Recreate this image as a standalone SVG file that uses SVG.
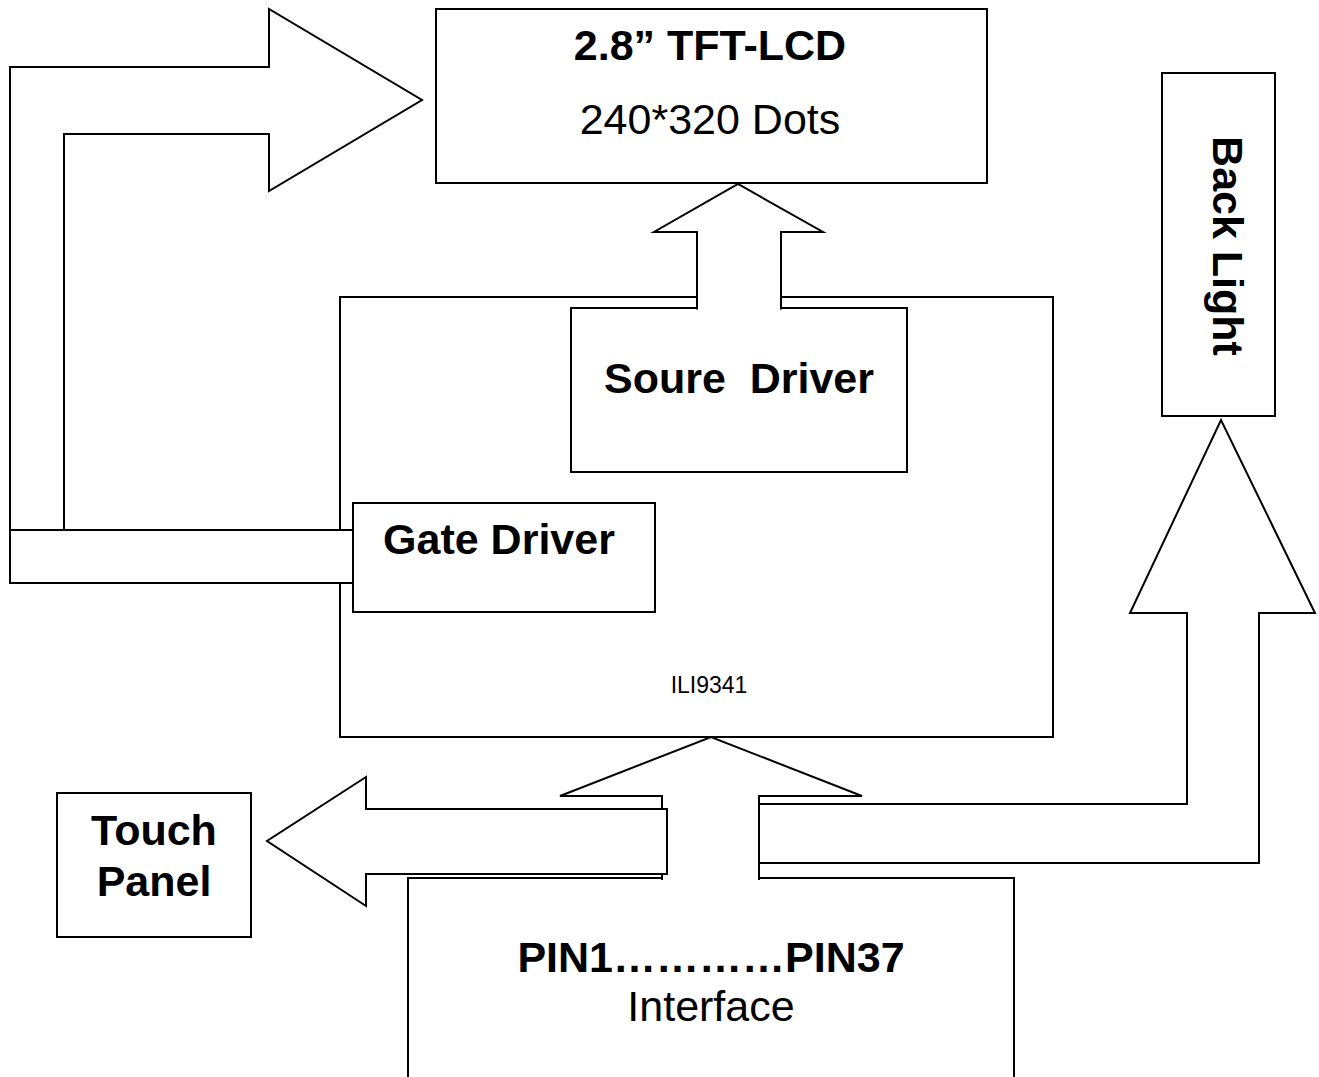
<svg xmlns="http://www.w3.org/2000/svg" width="1319" height="1077" viewBox="0 0 1319 1077">
<style>
.box{fill:#fff;stroke:#000;stroke-width:2}
.arw{fill:#fff;stroke:#000;stroke-width:2;stroke-linejoin:miter}
.t{font-family:"Liberation Sans",Arial,sans-serif;font-size:43px;fill:#000;text-anchor:middle}
.b{font-weight:bold}
.s{font-size:23px}
</style>
<rect width="1319" height="1077" fill="#fff"/>
<g id="nodes">
<g id="tft-lcd">
<rect class="box" x="436" y="9" width="551" height="174"/>
<text class="t b" x="710" y="60">2.8” TFT-LCD</text>
<text class="t" x="710" y="134">240*320 Dots</text>
</g>
<g id="ili9341">
<rect class="box" x="340" y="297" width="713" height="440"/>
<text class="t s" x="709" y="693">ILI9341</text>
</g>
<g id="source-driver">
<rect class="box" x="571" y="308" width="336" height="164"/>
<text class="t b" x="739" y="393" xml:space="preserve">Soure  Driver</text>
</g>
<g id="gate-driver">
<rect class="box" x="353" y="503" width="302" height="109"/>
<text class="t b" x="499" y="554">Gate Driver</text>
</g>
<g id="back-light">
<rect class="box" x="1162" y="73" width="113" height="343"/>
<text class="t b" x="1213" y="246" transform="rotate(90 1213 246)">Back Light</text>
</g>
<g id="touch-panel">
<rect class="box" x="57" y="793" width="194" height="144"/>
<text class="t b" x="154" y="845">Touch</text>
<text class="t b" x="154" y="896">Panel</text>
</g>
<g id="pin-interface">
<rect class="box" x="408" y="878" width="606" height="220"/>
<text class="t b" x="711" y="972">PIN1…………PIN37</text>
<text class="t" x="711" y="1021">Interface</text>
</g>
</g>
<g id="connectors">
<path class="arw" d="M10,530 V67 H269 V9 L422,100 L269,191 V134 H64 V530"/>
<rect class="arw" x="10" y="530" width="343" height="53"/>
<path class="arw" d="M697,309.5 V232 H654 L738,184 L823,232 H781 V309.5"/>
<path class="arw" d="M759,804 H1187 V613 H1130 L1221,420 L1315,613 H1259 V863 H759"/>
<path class="arw" d="M662,880 V796 H560 L711,737 L862,796 H759 V880"/>
<path class="arw" d="M667,809 H366 V777 L267,841 L366,906 V874 H667 Z"/>
</g>
</svg>
